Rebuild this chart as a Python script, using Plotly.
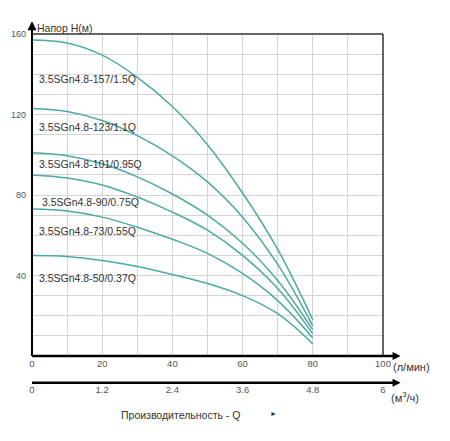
import plotly.graph_objects as go

# flow, l/min
flow = [0, 10, 20, 30, 40, 50, 60, 70, 80]

# head H (m) for each pump
h_157 = [157, 155.5, 149.5, 138.5, 124, 105, 81, 53, 18]
h_123 = [123, 121.5, 117, 109.5, 99.5, 86.5, 69, 45.5, 15]
h_101 = [101, 99.5, 95.5, 89, 80.5, 70, 56, 37.5, 13]
h_90 = [90, 88.5, 85, 79, 71.5, 62.5, 50, 33.5, 11]
h_73 = [73, 72, 69, 64, 58, 51, 41, 27.5, 9]
h_50 = [50, 49.5, 47.5, 44.5, 40.5, 36, 30, 21, 6]

names = ["3.5SGn4.8-157/1.5Q", "3.5SGn4.8-123/1.1Q", "3.5SGn4.8-101/0.95Q",
         "3.5SGn4.8-90/0.75Q", "3.5SGn4.8-73/0.55Q", "3.5SGn4.8-50/0.37Q"]
curves = [h_157, h_123, h_101, h_90, h_73, h_50]
# where each label sits (x, y in data units)
label_pos = [(1.3, 137.6), (1.3, 113.8), (1.3, 95.6), (2.3, 76.6), (1.3, 62.3), (1.3, 38.7)]

q_ticks = [0, 20, 40, 60, 80, 100]
m3_ticks = [0, 1.2, 2.4, 3.6, 4.8, 6]
m3_text = ["0", "1.2", "2.4", "3.6", "4.8", "6"]
h_ticks = [40, 80, 120, 160]

line_col = "#4ea9a2"
txt_col = "#333333"
tick_col = "#555555"
FONT = "Liberation Sans, Arial, sans-serif"

fig = go.Figure()
for h in curves:
    fig.add_trace(go.Scatter(x=flow, y=h, mode="lines",
                             line=dict(color=line_col, width=1.5, shape="spline", smoothing=1.1),
                             showlegend=False, hoverinfo="skip"))
# invisible trace so xaxis2 exists
fig.add_trace(go.Scatter(x=[0, 6], y=[0, 0], xaxis="x2", mode="lines", opacity=0, showlegend=False, hoverinfo="skip"))

y_bottom = 0.1226

# page body adds an 8px margin, so the figure is 8px smaller and shifted
fig.update_layout(
    width=442, height=433,
    margin=dict(l=24, r=67, t=26, b=40),
    paper_bgcolor="white", plot_bgcolor="white",
    font=dict(family=FONT, color=txt_col),
    xaxis=dict(range=[0, 100], tickvals=q_ticks, ticktext=[str(v) for v in q_ticks],
               showgrid=True, gridcolor="#d4d4d4", gridwidth=1,
               minor=dict(dtick=10, showgrid=True, gridcolor="#d4d4d4", gridwidth=1),
               showline=False, zeroline=False, automargin=False,
               ticks="", tickfont=dict(size=9.5, color=tick_col), anchor="y"),
    xaxis2=dict(range=[0, 6], overlaying="x", anchor="free", position=0.05, side="bottom",
                tickvals=m3_ticks, ticktext=m3_text, showgrid=False, zeroline=False,
                showline=False, ticks="", automargin=False,
                tickfont=dict(size=9.5, color=tick_col)),
    yaxis=dict(range=[0, 160], domain=[y_bottom, 1], tickvals=h_ticks,
               showgrid=True, gridcolor="#d4d4d4", gridwidth=1,
               minor=dict(dtick=10, showgrid=True, gridcolor="#d4d4d4", gridwidth=1),
               showline=False, zeroline=False, automargin=False, ticklabelstandoff=5,
               ticks="", tickfont=dict(size=9, color=tick_col)),
)

# frame: top, right, left axis, bottom axis, second axis (paper refs so nothing is clipped)
fig.add_shape(type="line", x0=0, x1=1, y0=1, y1=1, xref="paper", yref="paper", line=dict(color="#666666", width=2))
fig.add_shape(type="line", x0=1, x1=1, y0=y_bottom, y1=1, xref="paper", yref="paper", line=dict(color="#333333", width=1.5))
fig.add_shape(type="line", x0=0, x1=0, y0=y_bottom, y1=1.025, xref="paper", yref="paper", line=dict(color="black", width=2))
fig.add_shape(type="line", x0=0, x1=1.04, y0=y_bottom, y1=y_bottom, xref="paper", yref="paper",
              line=dict(color="black", width=2.5))
fig.add_shape(type="line", x0=0, x1=1.04, y0=0.05, y1=0.05, xref="paper", yref="paper",
              line=dict(color="black", width=2.5))

for name, (lx, ly) in zip(names, label_pos):
    fig.add_annotation(x=lx, y=ly, text=name, showarrow=False, xanchor="left", yanchor="middle",
                       font=dict(size=10.5, color=txt_col))

# arrow heads on axes
fig.add_annotation(x=0, y=1.035, xref="paper", yref="paper", text="", showarrow=True, ax=0, ay=12,
                   arrowhead=2, arrowsize=1.2, arrowwidth=1.5, arrowcolor="black")
fig.add_annotation(x=1.05, y=y_bottom, xref="paper", yref="paper", text="", showarrow=True, ax=-10, ay=0,
                   arrowhead=2, arrowsize=0.8, arrowwidth=2, arrowcolor="black")
fig.add_annotation(x=1.05, y=0.05, xref="paper", yref="paper", text="", showarrow=True, ax=-10, ay=0,
                   arrowhead=2, arrowsize=0.8, arrowwidth=2, arrowcolor="black")

fig.add_annotation(x=0, y=1.016, xref="paper", yref="paper", text="Напор H(м)", showarrow=False,
                   xanchor="left", yanchor="middle", xshift=3, font=dict(size=10.5, color=txt_col))
fig.add_annotation(x=1.024, y=0.0935, xref="paper", yref="paper", text="(л/мин)", showarrow=False,
                   xanchor="left", yanchor="middle", font=dict(size=11, color=txt_col))
fig.add_annotation(x=1.063, y=0.012, xref="paper", yref="paper", text="(м<sup>3</sup>/ч)", showarrow=False,
                   xanchor="center", yanchor="middle", font=dict(size=11, color=txt_col))
fig.add_annotation(x=0.4245, y=-0.038, xref="paper", yref="paper", text="Производительность - Q",
                   showarrow=False, xanchor="center", yanchor="middle", font=dict(size=10.5, color=txt_col))
fig.add_annotation(x=0.687, y=-0.035, xref="paper", yref="paper", text="►",
                   showarrow=False, xanchor="center", yanchor="middle", font=dict(size=7, color=txt_col))

fig.write_html("out.html")
